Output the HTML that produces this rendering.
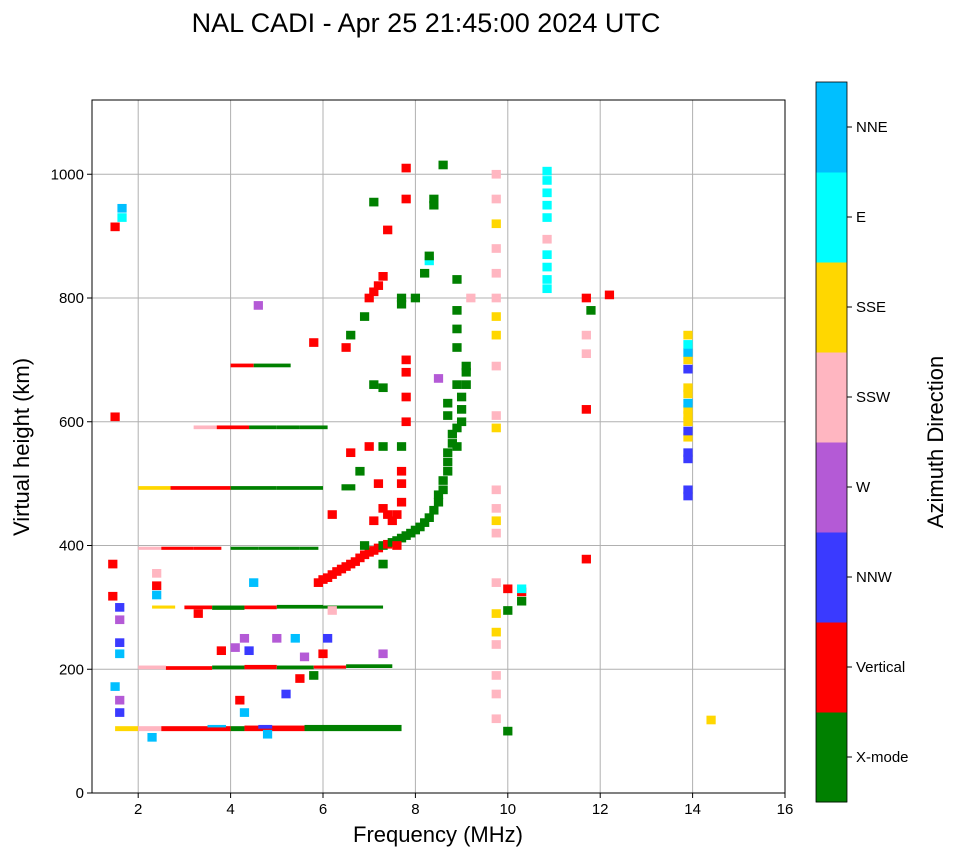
<!DOCTYPE html>
<html><head><meta charset="utf-8"><style>
body{margin:0;background:#fff;font-family:"Liberation Sans",sans-serif;}
svg text{font-family:"Liberation Sans",sans-serif;}
</style></head><body>
<svg id="chart" width="958" height="857">
<text x="426" y="32" font-size="27" text-anchor="middle">NAL CADI - Apr 25 21:45:00 2024 UTC</text>
<g id="grid"></g><g id="marks"></g><g id="axes"></g><g id="cbar"></g>
</svg>
<script>
const dirLabels=["X-mode","Vertical","NNW","W","SSW","SSE","E","NNE"];
const dirColors=["#008000","#ff0000","#3a3aff","#b45ad6","#ffb6c1","#ffd700","#00ffff","#00bfff"];
const xTicks=[2,4,6,8,10,12,14,16];
const yTicks=[0,200,400,600,800,1000];
// runs: [freqStart, freqEnd, hLow, hHigh, dirIndex]
const eLayerRuns=[[1.5,2.0,100,108,5],[2.0,2.5,100,108,4],[2.5,4.0,100,108,1],[3.5,3.9,106,110,7],[4.0,4.3,100,108,0],[4.3,5.6,100,109,1],[5.6,7.7,100,110,0],[4.6,4.9,104,110,2]];
const layer200Runs=[[2.0,2.6,200,206,4],[2.6,3.6,199,205,1],[3.6,4.3,200,206,0],[4.3,5.0,200,207,1],[5.0,5.8,200,206,0],[5.8,6.5,201,206,1],[6.5,7.5,202,208,0]];
const layer300Runs=[[2.3,2.8,298,303,5],[3.0,3.6,297,303,1],[3.6,4.3,296,303,0],[4.3,5.0,297,303,1],[5.0,6.0,298,304,0],[6.0,7.3,298,303,0]];
const layer400Runs=[[2.0,2.5,393,398,4],[2.5,3.2,393,398,1],[3.2,3.8,393,398,1],[4.0,4.6,393,398,0],[4.6,5.5,393,398,0],[5.5,5.9,393,398,0]];
const layer500Runs=[[2.0,2.7,490,496,5],[2.7,4.0,490,496,1],[4.0,5.0,490,496,0],[5.0,6.0,490,496,0],[6.4,6.7,489,499,0]];
const layer600Runs=[[3.2,3.7,588,594,4],[3.7,4.4,588,594,1],[4.4,5.0,588,594,0],[5.0,5.5,588,594,0],[5.5,6.1,588,594,0]];
const layer700Runs=[[4.0,4.5,688,694,1],[4.5,5.3,688,694,0]];
// points: [freq, height, dirIndex]
const fTracePoints=[[5.9,340,1],[6.0,345,1],[6.1,348,1],[6.2,353,1],[6.3,358,1],[6.4,362,1],[6.5,366,1],[6.6,370,1],[6.7,374,1],[6.8,380,1],[6.9,385,1],[7.0,389,1],[7.1,392,1],[7.2,396,1],[7.3,400,0],[7.4,402,1],[7.5,405,0],[7.6,408,0],[7.7,412,0],[7.8,416,0],[7.9,420,0],[8.0,425,0],[8.1,430,0],[8.2,437,0],[8.3,445,0],[8.4,457,0],[8.5,470,0],[8.5,482,0],[8.6,490,0],[8.6,505,0],[8.7,520,0],[8.7,535,0],[8.7,550,0],[8.8,565,0],[8.8,580,0],[8.7,610,0],[8.7,630,0],[8.9,560,0],[8.9,590,0],[9.0,600,0],[9.0,620,0],[9.0,640,0],[9.1,660,0],[9.1,680,0],[9.1,690,0],[8.9,660,0],[8.9,720,0],[8.9,750,0],[8.9,780,0],[8.9,830,0],[8.3,860,6],[8.3,868,0],[8.2,840,0],[8.0,800,0],[7.6,400,1],[7.5,440,1],[7.6,450,1],[7.7,470,1],[7.7,500,1],[7.7,520,1],[7.7,560,0],[7.8,600,1],[7.8,640,1],[7.8,680,1],[7.8,700,1],[7.7,800,0],[7.7,790,0],[7.8,960,1],[7.2,820,1],[7.3,835,1],[7.1,810,1],[7.0,800,1],[6.9,770,0],[6.6,740,0],[6.5,720,1],[6.2,450,1],[6.6,550,1],[7.0,560,1],[7.2,500,1],[7.3,460,1],[7.3,370,0],[7.1,660,0],[7.3,655,0],[7.3,560,0],[6.8,520,0],[8.6,1015,0],[8.4,950,0],[8.4,960,0],[9.2,800,4],[8.5,670,3],[6.9,400,0],[7.1,440,1],[7.4,450,1]];
const scatterPoints=[[1.5,915,1],[1.65,930,6],[1.65,945,7],[1.5,608,1],[1.45,370,1],[1.45,318,1],[1.6,300,2],[1.6,280,3],[1.6,243,2],[1.6,225,7],[1.5,172,7],[1.6,150,3],[1.6,130,2],[2.4,335,1],[2.4,320,7],[2.4,355,4],[4.5,340,7],[4.3,250,3],[4.1,235,3],[4.4,230,2],[3.8,230,1],[5.0,250,3],[5.4,250,7],[5.6,220,3],[6.1,250,2],[6.0,225,1],[7.3,225,3],[4.2,150,1],[4.3,130,7],[5.2,160,2],[5.5,185,1],[5.8,190,0],[4.8,95,7],[2.3,90,7],[6.2,295,4],[3.3,290,1],[4.6,788,3],[5.8,728,1],[7.1,955,0],[7.4,910,1],[7.8,1010,1],[9.75,120,4],[9.75,160,4],[9.75,190,4],[9.75,240,4],[9.75,260,5],[9.75,290,5],[9.75,340,4],[9.75,420,4],[9.75,440,5],[9.75,460,4],[9.75,490,4],[9.75,590,5],[9.75,610,4],[9.75,690,4],[9.75,740,5],[9.75,770,5],[9.75,800,4],[9.75,840,4],[9.75,880,4],[9.75,920,5],[9.75,960,4],[9.75,1000,4],[10.0,100,0],[10.0,295,0],[10.0,330,1],[10.3,310,0],[10.3,325,1],[10.3,330,6],[10.85,815,6],[10.85,830,6],[10.85,850,6],[10.85,870,6],[10.85,895,4],[10.85,930,6],[10.85,950,6],[10.85,970,6],[10.85,990,6],[10.85,1005,6],[11.7,800,1],[11.8,780,0],[12.2,805,1],[11.7,740,4],[11.7,710,4],[11.7,620,1],[11.7,378,1],[13.9,480,2],[13.9,490,2],[13.9,540,2],[13.9,550,2],[13.9,575,5],[13.9,585,2],[13.9,600,5],[13.9,610,5],[13.9,620,5],[13.9,630,7],[13.9,645,5],[13.9,655,5],[13.9,685,2],[13.9,700,5],[13.9,712,7],[13.9,725,6],[13.9,740,5],[14.4,118,5]];
const X0=92,X1=785,Y0=793,Y1=100;
function xs(f){return X0+(f-1)/15*(X1-X0);}
function ys(h){return Y0-h/1120*(Y0-Y1);}
const NS="http://www.w3.org/2000/svg";
function mk(t,a,p){const e=document.createElementNS(NS,t);for(const k in a)e.setAttribute(k,a[k]);p.appendChild(e);return e;}
const grid=document.getElementById('grid'),marks=document.getElementById('marks'),axes=document.getElementById('axes'),cbar=document.getElementById('cbar');
xTicks.forEach(t=>{const l=mk('line',{x1:xs(t),x2:xs(t),y1:Y1,y2:Y0,stroke:'#b0b0b0','stroke-width':1},grid);

});
yTicks.forEach(t=>{const l=mk('line',{x1:X0,x2:X1,y1:ys(t),y2:ys(t),stroke:'#b0b0b0','stroke-width':1},grid);

});
const allRuns=[].concat(eLayerRuns,layer200Runs,layer300Runs,layer400Runs,layer500Runs,layer600Runs,layer700Runs);
allRuns.forEach(r=>{const e=mk('rect',{x:xs(r[0]),y:ys(r[3]),width:xs(r[1])-xs(r[0]),height:ys(r[2])-ys(r[3]),fill:dirColors[r[4]]},marks);

});
fTracePoints.concat(scatterPoints).forEach(p=>{const e=mk('rect',{x:xs(p[0]-0.1),y:ys(p[1]+7),width:xs(p[0]+0.1)-xs(p[0]-0.1),height:ys(p[1]-7)-ys(p[1]+7),fill:dirColors[p[2]]},marks);

});
const fr=mk('rect',{x:X0,y:Y1,width:X1-X0,height:Y0-Y1,fill:'none',stroke:'#000','stroke-width':1},axes);


xTicks.forEach(t=>{mk('line',{x1:xs(t),x2:xs(t),y1:Y0,y2:Y0+5,stroke:'#000'},axes);
const tx=mk('text',{x:xs(t),y:Y0+21,'font-size':15,'text-anchor':'middle'},axes);tx.textContent=t;

});
yTicks.forEach(t=>{mk('line',{x1:X0-5,x2:X0,y1:ys(t),y2:ys(t),stroke:'#000'},axes);
const tx=mk('text',{x:X0-8,y:ys(t)+5,'font-size':15,'text-anchor':'end'},axes);tx.textContent=t;

});
const xl=mk('text',{x:438,y:842,'font-size':22,'text-anchor':'middle'},axes);xl.textContent='Frequency (MHz)';


const yl=mk('text',{x:0,y:0,'font-size':22,'text-anchor':'middle',transform:'translate(29,447) rotate(-90)'},axes);yl.textContent='Virtual height (km)';


const CB0=82,CB1=802,CX=816,CW=31,bh=(CB1-CB0)/8;
dirLabels.forEach((lab,i)=>{const y=CB1-(i+1)*bh;
const r=mk('rect',{x:CX,y:y,width:CW,height:bh+0.5,fill:dirColors[i]},cbar);


mk('line',{x1:CX+CW,x2:CX+CW+5,y1:y+bh/2,y2:y+bh/2,stroke:'#000'},cbar);
const tx=mk('text',{x:CX+CW+9,y:y+bh/2+5,'font-size':15},cbar);tx.textContent=lab;

});
mk('rect',{x:CX,y:CB0,width:CW,height:CB1-CB0,fill:'none',stroke:'#000','stroke-width':0.8},cbar);
const ct=mk('text',{x:0,y:0,'font-size':22,'text-anchor':'middle',transform:'translate(943,442) rotate(-90)'},cbar);ct.textContent='Azimuth Direction';


</script>
</body></html>
